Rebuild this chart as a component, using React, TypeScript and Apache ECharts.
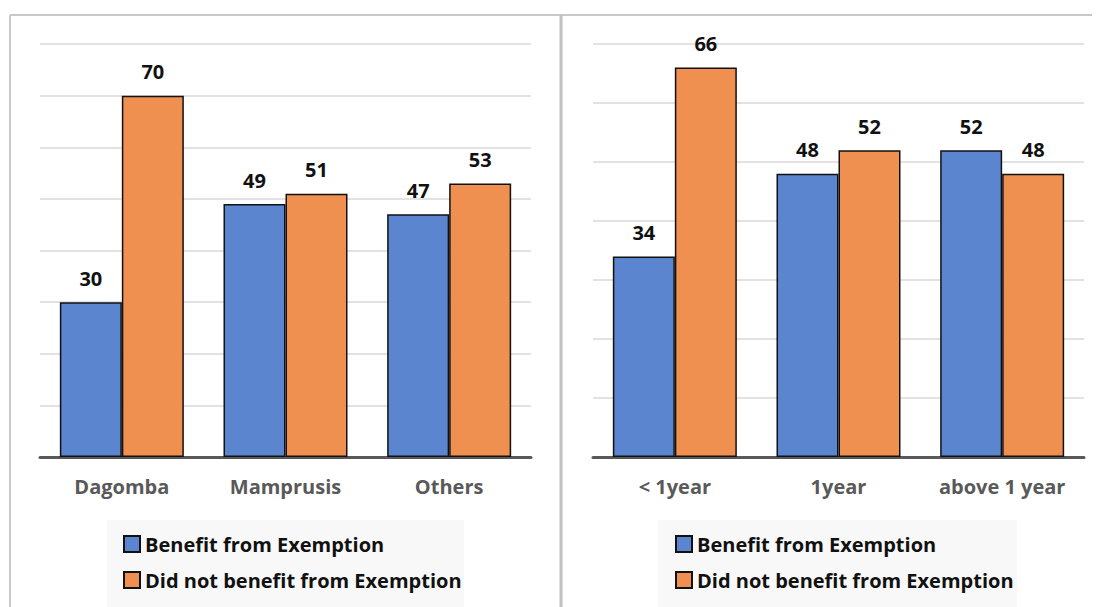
import React, { useEffect, useRef } from "react";
import * as echarts from "echarts";

const seriesNames = ["Benefit from Exemption", "Did not benefit from Exemption"];
const leftCategories = ["Dagomba", "Mamprusis", "Others"];
const leftBenefit = [30, 49, 47];
const leftNoBenefit = [70, 51, 53];
const rightCategories = ["< 1year", "1year", "above 1 year"];
const rightBenefit = [34, 48, 52];
const rightNoBenefit = [66, 52, 48];

const BLUE = "#5b85cf";
const ORANGE = "#ef8f50";
const FONT = "Open Sans";
const FS = 20;

export default function App() {
  const ref = useRef<HTMLDivElement>(null);
  useEffect(() => {
    if (!ref.current) return;
    const chart = echarts.init(ref.current, null, { renderer: "svg" });
    const barStyle = (color: string) => ({ color, borderColor: "#111", borderWidth: 1.5 });
    const label = {
      show: true,
      position: "top" as const,
      distance: 14,
      color: "#111",
      fontFamily: FONT,
      fontWeight: "bold" as const,
      fontSize: FS,
    };
    const xAxis = (idx: number, data: string[]) => ({
      type: "category" as const,
      gridIndex: idx,
      data,
      axisLine: { lineStyle: { color: "#595959", width: 3 } },
      axisTick: { show: false },
      axisLabel: {
        color: "#595959",
        fontFamily: FONT,
        fontWeight: "bold" as const,
        fontSize: FS,
        margin: 19,
        interval: 0,
        hideOverlap: false,
      },
    });
    const yAxis = (idx: number, max: number) => ({
      type: "value" as const,
      gridIndex: idx,
      min: 0,
      max,
      interval: 10,
      axisLabel: { show: false },
      axisLine: { show: false },
      axisTick: { show: false },
      splitLine: { lineStyle: { color: "#d9d9d9", width: 1.5 } },
    });
    const mkSeries = (name: string, idx: number, data: number[], color: string) => ({
      type: "bar" as const,
      name,
      xAxisIndex: idx,
      yAxisIndex: idx,
      data,
      barWidth: 62,
      barGap: "0%",
      itemStyle: barStyle(color),
      label,
    });
    const legend = (left: number) => ({
      left,
      top: 534,
      orient: "vertical" as const,
      padding: 0,
      itemGap: 16,
      itemWidth: 16,
      itemHeight: 16,
      itemTextGap: 8,
      icon: "rect",
      data: seriesNames,
      textStyle: {
        color: "#111",
        fontFamily: FONT,
        fontWeight: "bold" as const,
        fontSize: FS,
        lineHeight: 20,
      },
    });
    chart.setOption({
      animation: false,
      backgroundColor: "#ffffff",
      grid: [
        { left: 40, right: 1101 - 531, top: 44, bottom: 150 },
        { left: 593, right: 1101 - 1084, top: 44, bottom: 150 },
      ],
      xAxis: [xAxis(0, leftCategories), xAxis(1, rightCategories)],
      yAxis: [yAxis(0, 80), yAxis(1, 70)],
      legend: [legend(123), legend(675)],
      series: [
        mkSeries(seriesNames[0], 0, leftBenefit, BLUE),
        mkSeries(seriesNames[1], 0, leftNoBenefit, ORANGE),
        mkSeries(seriesNames[0], 1, rightBenefit, BLUE),
        mkSeries(seriesNames[1], 1, rightNoBenefit, ORANGE),
      ],
      graphic: [
        { type: "rect", z: -10, shape: { x: 107, y: 520, width: 357, height: 90 }, style: { fill: "#f8f8f8" } },
        { type: "rect", z: -10, shape: { x: 658, y: 520, width: 359, height: 90 }, style: { fill: "#f8f8f8" } },
        { type: "line", shape: { x1: 10, y1: 15, x2: 1092, y2: 15 }, style: { stroke: "#c8c8c8", lineWidth: 2 } },
        { type: "line", shape: { x1: 10, y1: 15, x2: 10, y2: 607 }, style: { stroke: "#c8c8c8", lineWidth: 2 } },
        { type: "line", shape: { x1: 561, y1: 15, x2: 561, y2: 607 }, style: { stroke: "#c0c0c0", lineWidth: 3 } },
      ],
    });
    return () => chart.dispose();
  }, []);
  return (
    <div
      ref={ref}
      style={{ position: "absolute", left: 0, top: 0, width: 1101, height: 607 }}
    />
  );
}
